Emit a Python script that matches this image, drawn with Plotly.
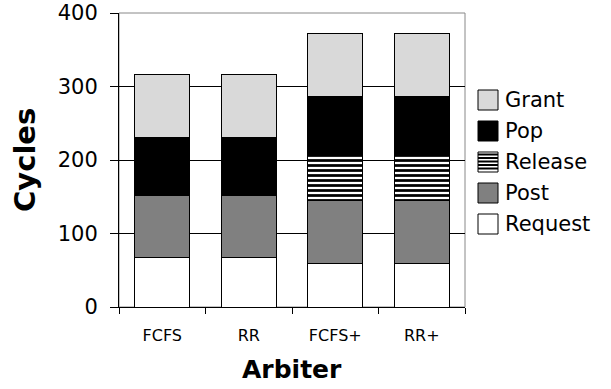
import plotly.graph_objects as go

categories = ["FCFS", "RR", "FCFS+", "RR+"]
request = [67, 67, 59, 59]
post = [85, 85, 86, 86]
release = [0, 0, 61, 61]
pop = [78, 78, 80, 80]
grant = [86, 86, 86, 86]
y_ticks = [0, 100, 200, 300, 400]

series_names = ["Request", "Post", "Release", "Pop", "Grant"]
series_values = [request, post, release, pop, grant]
series_colors = ["white", "#808080", "white", "black", "#d9d9d9"]

FONT = "DejaVu Sans"
W, H = 611, 389
L, R, T, B = 119, 146, 13, 82
PW, PH = W - L - R, H - T - B


def px(x):
    return (x - L) / PW


def py(y):
    return (H - B - y) / PH


fig = go.Figure()
line = dict(color="black", width=1)
for name, vals, col in zip(series_names, series_values, series_colors):
    marker = dict(color=col, line=line)
    if name == "Release":
        marker["pattern"] = dict(shape="-", fgcolor="black", bgcolor="white",
                                 size=5, solidity=0.55, fillmode="replace")
    fig.add_bar(name=name, x=categories, y=vals, marker=marker, showlegend=False)

# manual legend (swatches + labels)
shapes = [dict(type="rect", xref="paper", yref="paper", x0=0, y0=0, x1=1, y1=1,
               line=dict(color="#888888", width=1), layer="below")]
annotations = []
sw_x0, sw_x1, sw = 478, 498, 20
first_cy, step = 100, 31
for i, (name, col) in enumerate(zip(series_names[::-1], series_colors[::-1])):
    cy = first_cy + i * step
    y0, y1 = cy + sw / 2, cy - sw / 2
    shapes.append(dict(type="rect", xref="paper", yref="paper",
                       x0=px(sw_x0), x1=px(sw_x1), y0=py(y0), y1=py(y1),
                       fillcolor=col, line=dict(color="black", width=1), layer="above"))
    if name == "Release":
        yy = y1 + 2.5
        while yy < y0 - 1:
            shapes.append(dict(type="line", xref="paper", yref="paper",
                               x0=px(sw_x0), x1=px(sw_x1), y0=py(yy), y1=py(yy),
                               line=dict(color="black", width=2), layer="above"))
            yy += 3.5
    annotations.append(dict(text=name, xref="paper", yref="paper", x=px(503), y=py(cy),
                            xanchor="left", yanchor="middle", showarrow=False,
                            font=dict(size=21, family=FONT, color="black")))

annotations.append(dict(text="<b>Arbiter</b>", xref="paper", yref="paper",
                        x=px((L + W - R) / 2), y=py(369), xanchor="center", yanchor="middle",
                        showarrow=False, font=dict(size=25, family=FONT, color="black")))
annotations.append(dict(text="<b>Cycles</b>", xref="paper", yref="paper",
                        x=px(25), y=py(160), xanchor="center", yanchor="middle",
                        textangle=-90, showarrow=False,
                        font=dict(size=29, family=FONT, color="black")))

fig.update_layout(
    barmode="stack",
    bargap=0.365,
    width=W, height=H,
    margin=dict(l=L, r=R, t=T, b=B),
    paper_bgcolor="white", plot_bgcolor="white",
    font=dict(family=FONT, color="black"),
    showlegend=False,
    shapes=shapes,
    annotations=annotations,
)
fig.update_xaxes(
    type="category", tickson="boundaries", ticks="outside", ticklen=6,
    tickcolor="black", showline=True, linecolor="black", linewidth=1,
    tickfont=dict(size=16, family=FONT), ticklabelstandoff=14, automargin=False,
)
fig.update_yaxes(
    range=[0, 400], tickvals=y_ticks, ticks="outside", ticklen=8, tickcolor="black",
    showline=True, linecolor="black", linewidth=1,
    showgrid=True, gridcolor="black", gridwidth=1, zeroline=False,
    tickfont=dict(size=21, family=FONT), automargin=False, ticklabelstandoff=8,
)
fig.write_html("out.html")
